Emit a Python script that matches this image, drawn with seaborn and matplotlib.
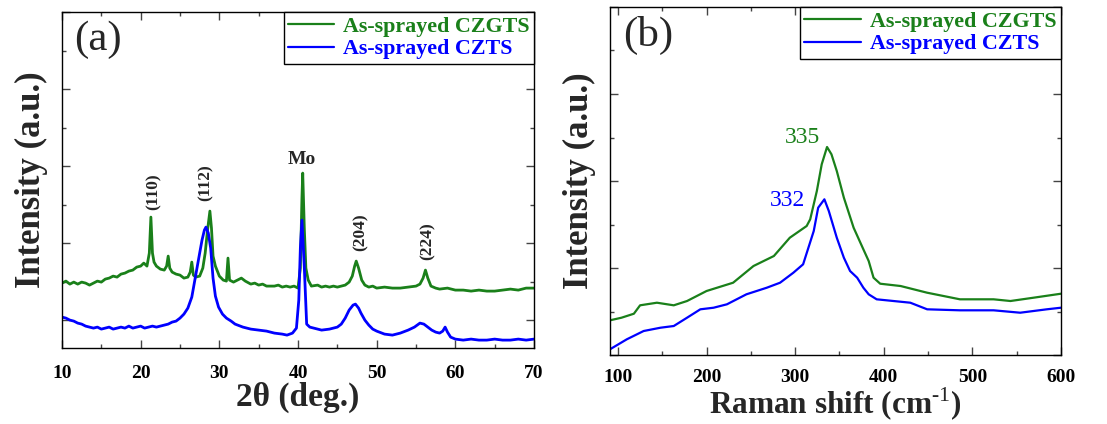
import matplotlib
matplotlib.use("Agg")
import matplotlib.pyplot as plt
from matplotlib.ticker import MultipleLocator
import pandas as pd
import seaborn as sns

# ---- XRD data (a), intensity in arbitrary units ----
xrd_czgts_2theta = [10.0, 10.5, 11.0, 11.5, 12.0, 12.5, 13.0, 13.5, 14.0, 14.5, 15.0, 15.5, 16.0, 16.5,
                    17.0, 17.5, 18.0, 18.5, 19.0, 19.5, 20.0, 20.4, 20.8, 21.1, 21.3, 21.5, 21.7, 22.0,
                    22.5, 23.0, 23.3, 23.5, 23.7, 24.0, 24.5, 25.0, 25.5, 26.0, 26.3, 26.5, 26.7, 27.0,
                    27.5, 27.9, 28.2, 28.5, 28.8, 29.0, 29.2, 29.5, 30.0, 30.5, 30.9, 31.1, 31.3, 31.8,
                    32.3, 32.8, 33.3, 34.0, 34.5, 35.0, 35.5, 36.0, 37.0, 37.5, 38.0, 38.5, 39.0, 39.5,
                    40.0, 40.3, 40.5, 40.6, 40.8, 41.0, 41.3, 41.7, 42.5, 43.0, 43.5, 44.0, 44.5, 45.0,
                    45.5, 46.0, 46.5, 46.9, 47.2, 47.4, 47.7, 48.1, 48.5, 49.0, 49.5, 50.0, 51.0, 52.0,
                    53.0, 54.0, 55.0, 55.5, 55.9, 56.2, 56.5, 56.9, 57.5, 58.0, 59.0, 60.0, 61.0, 62.0,
                    63.0, 64.0, 65.0, 66.0, 67.0, 68.0, 69.0, 70.0]
xrd_czgts_int = [65, 67, 64, 66, 64, 66, 65, 63, 65, 67, 66, 69, 70, 72,
                 71, 74, 75, 77, 78, 81, 82, 85, 82, 95, 131, 95, 86, 82,
                 79, 78, 82, 92, 80, 76, 74, 73, 70, 71, 76, 86, 73, 71,
                 72, 80, 95, 118, 137, 120, 92, 82, 72, 68, 67, 90, 68, 66,
                 68, 70, 67, 64, 65, 63, 64, 62, 62, 63, 61, 62, 61, 62,
                 60, 80, 150, 175, 120, 80, 68, 62, 63, 61, 62, 61, 62, 61,
                 62, 63, 66, 72, 82, 87, 80, 68, 63, 61, 62, 60, 61, 60,
                 60, 61, 62, 64, 70, 78, 70, 62, 60, 59, 60, 58, 58, 57,
                 58, 57, 57, 58, 59, 58, 60, 60]

xrd_czts_2theta = [10.0, 10.5, 11.0, 11.5, 12.0, 12.5, 13.0, 13.5, 14.0, 14.5, 15.0, 15.5, 16.0, 16.5,
                   17.0, 17.5, 18.0, 18.5, 19.0, 19.5, 20.0, 20.5, 21.0, 21.5, 22.0, 22.5, 23.0, 23.5,
                   24.0, 24.5, 25.0, 25.5, 26.0, 26.5, 27.0, 27.5, 27.8, 28.1, 28.3, 28.6, 28.9, 29.2,
                   29.5, 29.9, 30.4, 30.9, 31.5, 32.0, 33.0, 34.0, 35.0, 36.0, 37.0, 38.0, 38.6, 39.3,
                   39.8, 40.1, 40.3, 40.5, 40.8, 41.1, 41.5, 42.0, 43.0, 44.0, 45.0, 45.5, 46.0, 46.5,
                   47.0, 47.3, 47.7, 48.0, 48.5, 49.0, 49.5, 50.0, 51.0, 52.0, 53.0, 54.0, 54.8, 55.5,
                   56.0, 56.5, 57.0, 57.5, 58.0, 58.4, 58.7, 59.0, 59.4, 60.0, 61.0, 62.0, 63.0, 64.0,
                   65.0, 66.0, 67.0, 68.0, 69.0, 70.0]
xrd_czts_int = [31, 30, 28, 27, 25, 24, 22, 21, 20, 21, 19, 20, 21, 19,
                20, 21, 20, 22, 20, 21, 22, 20, 21, 22, 21, 22, 23, 24,
                26, 27, 30, 34, 40, 51, 73, 95, 108, 118, 121, 115, 100, 70,
                52, 41, 34, 30, 27, 24, 21, 19, 18, 17, 15, 14, 13, 15,
                20, 48, 100, 128, 81, 24, 21, 20, 18, 19, 21, 24, 30, 38,
                43, 44, 40, 35, 28, 23, 19, 17, 14, 13, 15, 18, 21, 25,
                24, 21, 18, 16, 15, 17, 21, 16, 11, 9, 8, 9, 8, 8,
                9, 8, 8, 9, 8, 9]

xrd_peak_labels = ["(110)", "(112)", "Mo", "(204)", "(224)"]
xrd_peak_x = [21.6, 28.3, 40.5, 47.95, 56.5]
xrd_peak_y = [156, 165, 189, 116, 107]

# ---- Raman data (b) ----
raman_czgts_shift = [91, 104, 118, 125, 144, 163, 178, 200, 230, 253, 276, 294, 313, 317, 324.5,
                     330, 336, 341, 347, 355, 366, 377, 383, 388.5, 396, 419, 449, 486, 524, 543,
                     569, 600]
raman_czgts_int = [34.7, 37.3, 41.3, 49.7, 52.3, 49.7, 54, 64, 72.3, 89, 99, 117.3, 129, 135.7, 164,
                   190.7, 208, 200.7, 184, 157.3, 127.3, 105.7, 94, 77.3, 71.3, 69, 62.3, 55.7, 55.7, 54,
                   57.3, 61.3]

raman_czts_shift = [91, 110, 129, 148, 163, 178, 193, 208, 223, 245, 268, 283, 298, 309, 321, 326,
                    333, 338, 347, 355, 362, 370, 377, 383, 392, 430, 449, 486, 524, 554, 584, 600]
raman_czts_int = [5.7, 15.7, 24, 27.3, 29, 37.3, 45.7, 47.3, 50.7, 60.7, 67.3, 72.3, 82.3, 90.7, 124, 147.3,
                  155.7, 144, 117.3, 97.3, 84, 77.3, 67.3, 60.7, 55.7, 52.3, 45.7, 44.7, 44.7, 42.3, 45.7,
                  47.3]

raman_peak_labels = ["335", "332"]
raman_peak_x = [308, 291]
raman_peak_y = [218, 155]

samples = ["As-sprayed CZGTS", "As-sprayed CZTS"]
colors = {"As-sprayed CZGTS": "#1a801a", "As-sprayed CZTS": "#0000ff"}

xrd = pd.concat([
    pd.DataFrame({"x": xrd_czgts_2theta, "y": xrd_czgts_int, "sample": samples[0]}),
    pd.DataFrame({"x": xrd_czts_2theta, "y": xrd_czts_int, "sample": samples[1]}),
])
raman = pd.concat([
    pd.DataFrame({"x": raman_czgts_shift, "y": raman_czgts_int, "sample": samples[0]}),
    pd.DataFrame({"x": raman_czts_shift, "y": raman_czts_int, "sample": samples[1]}),
])

sns.set_theme(style="ticks")
plt.rcParams["font.family"] = ["Liberation Serif", "DejaVu Serif"]
plt.rcParams["mathtext.fontset"] = "custom"
plt.rcParams["mathtext.rm"] = "Liberation Serif"
plt.rcParams["mathtext.bf"] = "Liberation Serif:bold"

fig = plt.figure(figsize=(11.07, 4.24), dpi=100)
ax1 = fig.add_axes([0.056, 0.179, 0.4264, 0.7925])
ax2 = fig.add_axes([0.551, 0.1627, 0.4074, 0.8208])

# handle length and tick pad differ a little between the two panels in the original
for ax, df, lw, hl, tpad in [(ax1, xrd, 2.0, 2.1, 12), (ax2, raman, 1.6, 2.6, 10)]:
    sns.lineplot(data=df, x="x", y="y", hue="sample", hue_order=samples, palette=colors,
                 estimator=None, linewidth=lw, ax=ax)
    leg = ax.legend(loc="upper right", borderaxespad=0, frameon=True, fancybox=False,
                    handlelength=hl, handletextpad=0.4, borderpad=0.2, labelspacing=0.1,
                    labelcolor="linecolor", prop={"weight": "bold", "size": 15.8})
    leg.get_frame().set_edgecolor("black")
    leg.get_frame().set_linewidth(1.0)
    leg.get_frame().set_alpha(1)
    for line in leg.get_lines():
        line.set_linewidth(1.6)
    ax.tick_params(which="both", direction="in", top=True, right=True, labelleft=False,
                   colors="#444444", labelcolor="black", labelsize=14, pad=tpad)
    ax.tick_params(which="major", length=6, width=1)
    ax.tick_params(which="minor", length=3, width=1)
    for sp in ax.spines.values():
        sp.set_color("black")
        sp.set_linewidth(1.0)
    ax.set_ylabel("Intensity (a.u.)", fontsize=25, fontweight="bold", labelpad=10)

# (a) XRD
ax1.set_xlim(10, 70)
ax1.set_ylim(0, 336)
ax1.xaxis.set_major_locator(MultipleLocator(10))
ax1.xaxis.set_minor_locator(MultipleLocator(5))
ax1.yaxis.set_major_locator(MultipleLocator(77, offset=28))
ax1.yaxis.set_minor_locator(MultipleLocator(38.5, offset=28))
for lbl in ax1.get_xticklabels():
    lbl.set_fontweight("bold")
ax1.set_xlabel("2θ (deg.)", fontsize=24, fontweight="bold", labelpad=0)
ax1.text(0.025, 0.975, "(a)", transform=ax1.transAxes, fontsize=31, va="top", ha="left")
for lab, px, py in zip(xrd_peak_labels, xrd_peak_x, xrd_peak_y):
    rot = 0 if lab == "Mo" else 90
    size = 14 if lab == "Mo" else 12.5
    ax1.text(px, py, lab, rotation=rot, ha="center", va="center", fontsize=size, fontweight="bold")

# (b) Raman
ax2.set_xlim(91, 600)
ax2.set_ylim(0, 348)
ax2.xaxis.set_major_locator(MultipleLocator(100))
ax2.xaxis.set_minor_locator(MultipleLocator(50))
ax2.yaxis.set_major_locator(MultipleLocator(87))
ax2.yaxis.set_minor_locator(MultipleLocator(43.5))
for lbl in ax2.get_xticklabels():
    lbl.set_fontweight("bold")
ax2.set_xlabel(r"Raman shift (cm$^{\mathbf{\text{-1}}}$)", fontsize=22.5, fontweight="bold", labelpad=0)
ax2.text(0.03, 0.975, "(b)", transform=ax2.transAxes, fontsize=31, va="top", ha="left")
for lab, px, py, c in zip(raman_peak_labels, raman_peak_x, raman_peak_y, [colors[s] for s in samples]):
    ax2.text(px, py, lab, ha="center", va="center", fontsize=17, color=c)

fig.savefig("out.png", dpi=100)
